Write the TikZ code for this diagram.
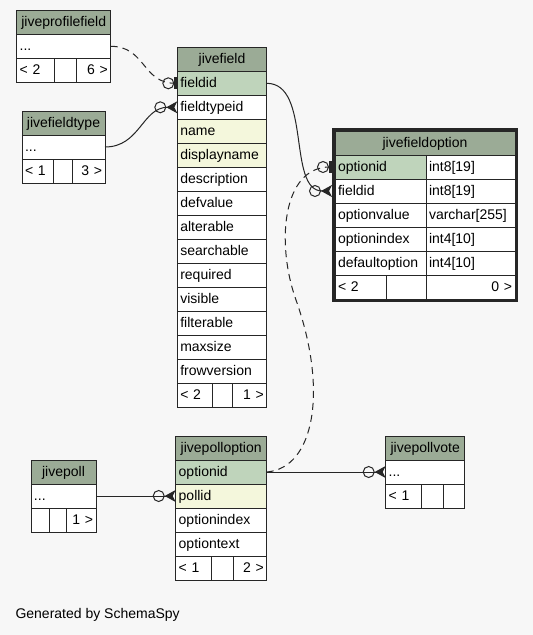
\documentclass[tikz,border=0pt]{standalone}
\usepackage{fontspec}
\setmainfont{Liberation Sans}
\usetikzlibrary{arrows.meta,positioning}
\definecolor{pagebg}{HTML}{F7F7F7}
\definecolor{headgreen}{HTML}{9BAB96}
\definecolor{keygreen}{HTML}{BFD4BB}
\definecolor{idxcream}{HTML}{F4F7DC}
\definecolor{gridline}{HTML}{262626}
\tikzset{
  cell/.style={draw=gridline, line width=1pt, outer sep=0pt, inner xsep=3pt, inner ysep=0pt,
    minimum width=#1, text width=#1-6, minimum height=24pt, text height=11pt, text depth=2pt,
    align=left, font=\fontsize{14}{16}\selectfont},
  headcell/.style={cell=#1, fill=headgreen, align=center},
  keycell/.style={cell=#1, fill=keygreen},
  idxcell/.style={cell=#1, fill=idxcream},
  plaincell/.style={cell=#1, fill=white},
  rel/.style={draw=gridline, line width=1pt},
  implied/.style={rel, dash pattern=on 7pt off 5pt},
  tomany/.style={-{Circle[open,length=12pt,width=12pt] Stealth[reversed,length=11pt,width=12pt,inset=3pt]}},
  toone/.style={-{Circle[open,length=12pt,width=12pt] Bar[width=12pt,line width=3pt]}},
}

\begin{document}
\begin{tikzpicture}[x=1pt,y=-1pt]
  \useasboundingbox (0,0) rectangle (533,635);
  \fill[pagebg] (0,0) rectangle (533,635);
  % jiveprofilefield
  \node[headcell=94, anchor=north west] (jpf) at (16.7,10.3) {jiveprofilefield};
  \node[plaincell=94, below=0pt of jpf] (jpf-dots) {...};
  \node[plaincell=37.6, anchor=north west] (jpf-prev) at (jpf-dots.south west) {< 2};
  \node[plaincell=22.4, right=0pt of jpf-prev] (jpf-gap) {};
  \node[plaincell=34, right=0pt of jpf-gap, align=right] (jpf-next) {6 >};
  % jivefieldtype
  \node[headcell=83, anchor=north west] (jft) at (22,111) {jivefieldtype};
  \node[plaincell=83, below=0pt of jft] (jft-dots) {...};
  \node[plaincell=31.3, anchor=north west] (jft-prev) at (jft-dots.south west) {< 1};
  \node[plaincell=19.4, right=0pt of jft-prev] (jft-gap) {};
  \node[plaincell=32.3, right=0pt of jft-gap, align=right] (jft-next) {3 >};
  % jivefield
  \node[headcell=89.4, anchor=north west] (jf) at (177.3,47.3) {jivefield};
  \node[keycell=89.4, below=0pt of jf] (jf-fieldid) {fieldid};
  \node[plaincell=89.4, below=0pt of jf-fieldid] (jf-fieldtypeid) {fieldtypeid};
  \node[idxcell=89.4, below=0pt of jf-fieldtypeid] (jf-name) {name};
  \node[idxcell=89.4, below=0pt of jf-name] (jf-displayname) {displayname};
  \node[plaincell=89.4, below=0pt of jf-displayname] (jf-description) {description};
  \node[plaincell=89.4, below=0pt of jf-description] (jf-defvalue) {defvalue};
  \node[plaincell=89.4, below=0pt of jf-defvalue] (jf-alterable) {alterable};
  \node[plaincell=89.4, below=0pt of jf-alterable] (jf-searchable) {searchable};
  \node[plaincell=89.4, below=0pt of jf-searchable] (jf-required) {required};
  \node[plaincell=89.4, below=0pt of jf-required] (jf-visible) {visible};
  \node[plaincell=89.4, below=0pt of jf-visible] (jf-filterable) {filterable};
  \node[plaincell=89.4, below=0pt of jf-filterable] (jf-maxsize) {maxsize};
  \node[plaincell=89.4, below=0pt of jf-maxsize] (jf-frowversion) {frowversion};
  \node[plaincell=35.4, anchor=north west] (jf-prev) at (jf-frowversion.south west) {< 2};
  \node[plaincell=20, right=0pt of jf-prev] (jf-gap) {};
  \node[plaincell=34, right=0pt of jf-gap, align=right] (jf-next) {1 >};
  % jivefieldoption (focus table)
  \node[headcell=180, anchor=north west] (jfo) at (335,131) {jivefieldoption};
  \node[keycell=91, anchor=north west] (jfo-optionid) at (jfo.south west) {optionid};
  \node[plaincell=89, right=0pt of jfo-optionid] (jfo-optionid-t) {int8[19]};
  \node[plaincell=91, below=0pt of jfo-optionid] (jfo-fieldid) {fieldid};
  \node[plaincell=89, right=0pt of jfo-fieldid] (jfo-fieldid-t) {int8[19]};
  \node[plaincell=91, below=0pt of jfo-fieldid] (jfo-optionvalue) {optionvalue};
  \node[plaincell=89, right=0pt of jfo-optionvalue] (jfo-optionvalue-t) {varchar[255]};
  \node[plaincell=91, below=0pt of jfo-optionvalue] (jfo-optionindex) {optionindex};
  \node[plaincell=89, right=0pt of jfo-optionindex] (jfo-optionindex-t) {int4[10]};
  \node[plaincell=91, below=0pt of jfo-optionindex] (jfo-defaultoption) {defaultoption};
  \node[plaincell=89, right=0pt of jfo-defaultoption] (jfo-defaultoption-t) {int4[10]};
  \node[plaincell=51, anchor=north west] (jfo-prev) at (jfo-defaultoption.south west) {< 2};
  \node[plaincell=40, right=0pt of jfo-prev] (jfo-gap) {};
  \node[plaincell=89, right=0pt of jfo-gap, align=right] (jfo-next) {0 >};
  \draw[gridline, line width=3pt] ([shift={(-1.5pt,1.5pt)}]jfo.north west) rectangle ([shift={(1.5pt,-1.5pt)}]jfo-next.south east);
  % jivepoll
  \node[headcell=65, anchor=north west] (jp) at (31,460) {jivepoll};
  \node[plaincell=65, below=0pt of jp] (jp-dots) {...};
  \node[plaincell=18, anchor=north west] (jp-prev) at (jp-dots.south west) {};
  \node[plaincell=17, right=0pt of jp-prev] (jp-gap) {};
  \node[plaincell=30, right=0pt of jp-gap, align=right] (jp-next) {1 >};
  % jivepolloption
  \node[headcell=91, anchor=north west] (jpo) at (175.7,436) {jivepolloption};
  \node[keycell=91, below=0pt of jpo] (jpo-optionid) {optionid};
  \node[idxcell=91, below=0pt of jpo-optionid] (jpo-pollid) {pollid};
  \node[plaincell=91, below=0pt of jpo-pollid] (jpo-optionindex) {optionindex};
  \node[plaincell=91, below=0pt of jpo-optionindex] (jpo-optiontext) {optiontext};
  \node[plaincell=36, anchor=north west] (jpo-prev) at (jpo-optiontext.south west) {< 1};
  \node[plaincell=21.6, right=0pt of jpo-prev] (jpo-gap) {};
  \node[plaincell=33.4, right=0pt of jpo-gap, align=right] (jpo-next) {2 >};
  % jivepollvote
  \node[headcell=79, anchor=north west] (jpv) at (385.7,436) {jivepollvote};
  \node[plaincell=79, below=0pt of jpv] (jpv-dots) {...};
  \node[plaincell=36, anchor=north west] (jpv-prev) at (jpv-dots.south west) {< 1};
  \node[plaincell=21.6, right=0pt of jpv-prev] (jpv-gap) {};
  \node[plaincell=21.4, right=0pt of jpv-gap] (jpv-next) {};
  % relationships
  \draw[implied, toone] (jpf-dots.east) .. controls +(35,0) and +(-35,0) .. (jf-fieldid.west);
  \draw[rel, tomany] (jft-dots.east) .. controls +(35,0) and +(-35,0) .. (jf-fieldtypeid.west);
  \draw[rel, tomany] (jf-fieldid.east) .. controls +(45,0) and +(-45,0) .. ([xshift=-3pt]jfo-fieldid.west);
  \coordinate (optbend) at (296,300);
  \draw[implied, toone] (jpo-optionid.east) .. controls +(48,-4) and +(32,90) .. (optbend)
    .. controls +(-20,-56) and +(-50,0) .. ([xshift=-3pt]jfo-optionid.west);
  \draw[rel, tomany] (jp-dots.east) -- (jpo-pollid.west);
  \draw[rel, tomany] (jpo-optionid.east) -- (jpv-dots.west);
  \node[anchor=west, font=\fontsize{14}{16}\selectfont] (credit) at (12,615) {Generated by SchemaSpy};
\end{tikzpicture}
\end{document}
